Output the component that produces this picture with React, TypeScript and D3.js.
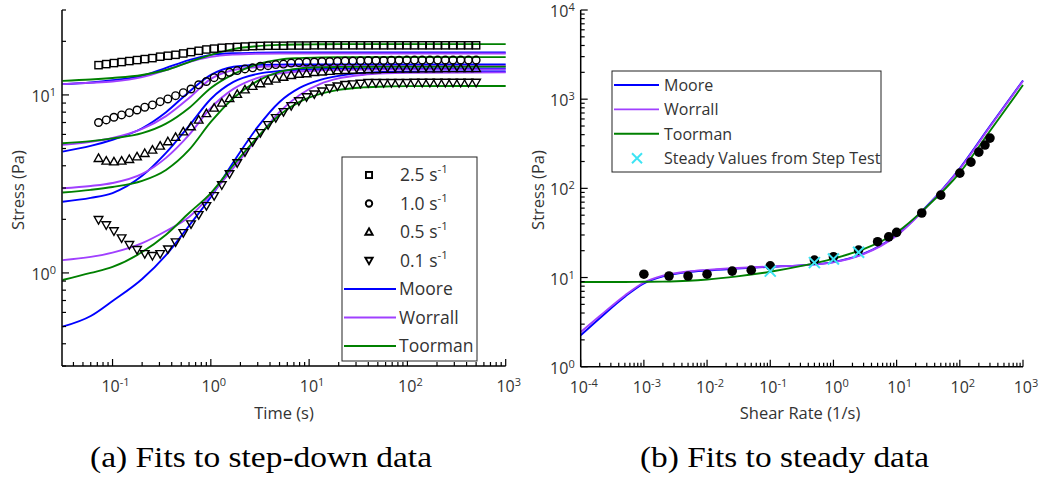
import React from 'react';
import * as d3 from 'd3';

// ---------- Panel (a): step-down data ----------
const TIMES = [0.072, 0.0863, 0.1033, 0.1237, 0.1482, 0.1775, 0.2127, 0.2547, 0.3051, 0.3655,
  0.4378, 0.5245, 0.6283, 0.7526, 0.9015, 1.08, 1.294, 1.549, 1.856, 2.223,
  2.663, 3.19, 3.821, 4.577, 5.483, 6.568, 7.868, 9.424, 11.29, 13.52,
  16.2, 19.4, 23.24, 27.84, 33.35, 39.95, 47.86, 57.33, 68.67, 82.26,
  98.54, 118.0, 141.4, 169.4, 202.9, 243.0, 291.1, 348.7, 417.7, 500.3];

const STEP_25 = [14.7, 14.9, 15.1, 15.3, 15.5, 15.7, 15.9, 16.1, 16.4, 16.6,
  16.8, 17.1, 17.4, 17.7, 18.0, 18.2, 18.4, 18.5, 18.6, 18.7,
  18.8, 18.85, 18.9, 18.9, 18.9, 18.95, 18.95, 18.95, 19.0, 19.0,
  19.0, 19.0, 19.0, 19.0, 19.0, 19.0, 19.0, 19.0, 19.0, 19.0,
  19.0, 19.0, 19.0, 19.0, 19.0, 19.0, 19.0, 19.0, 19.0, 19.0];
const STEP_10 = [7.0, 7.24, 7.49, 7.72, 7.95, 8.23, 8.53, 8.79, 9.17, 9.49,
  9.91, 10.3, 10.8, 11.4, 11.9, 12.5, 12.9, 13.4, 13.7, 14.0,
  14.2, 14.5, 14.6, 14.8, 14.9, 15.1, 15.2, 15.3, 15.3, 15.4,
  15.4, 15.45, 15.5, 15.5, 15.55, 15.6, 15.6, 15.6, 15.65, 15.65,
  15.7, 15.7, 15.7, 15.7, 15.7, 15.7, 15.7, 15.7, 15.7, 15.7];
const STEP_05 = [4.41, 4.26, 4.22, 4.26, 4.35, 4.5, 4.7, 4.91, 5.17, 5.47,
  5.79, 6.22, 6.64, 7.24, 7.87, 8.45, 9.02, 9.56, 10.1, 10.7,
  11.2, 11.6, 12.0, 12.3, 12.6, 12.9, 13.1, 13.2, 13.4, 13.5,
  13.6, 13.7, 13.75, 13.8, 13.85, 13.9, 13.9, 13.95, 13.95, 14.0,
  14.0, 14.0, 14.05, 14.05, 14.05, 14.1, 14.1, 14.1, 14.1, 14.1];
const STEP_01 = [1.99, 1.86, 1.72, 1.57, 1.44, 1.35, 1.28, 1.25, 1.28, 1.36,
  1.49, 1.68, 1.88, 2.12, 2.38, 2.71, 3.12, 3.6, 4.15, 4.78,
  5.45, 6.12, 6.79, 7.43, 8.03, 8.68, 9.25, 9.74, 10.1, 10.5,
  10.9, 11.2, 11.4, 11.5, 11.6, 11.7, 11.7, 11.7, 11.7, 11.7,
  11.7, 11.75, 11.75, 11.75, 11.75, 11.75, 11.75, 11.75, 11.75, 11.75];

const FIT_TIMES = [0.031, 0.06, 0.1, 0.2, 0.35, 0.6, 1, 1.7, 3, 5, 8, 13, 20, 35, 60, 100, 1000];
const MOORE_25 = [11.5, 11.75, 12.1, 12.8, 14.2, 15.7, 16.8, 17.15, 17.25, 17.3, 17.3, 17.3, 17.3, 17.3, 17.3, 17.3, 17.3];
const WORRALL_25 = [11.5, 11.7, 11.9, 12.6, 13.8, 15.3, 16.35, 16.85, 17.05, 17.1, 17.1, 17.1, 17.1, 17.1, 17.1, 17.1, 17.1];
const TOORMAN_25 = [12.0, 12.2, 12.45, 12.95, 13.8, 15.3, 16.8, 18.1, 18.8, 19.1, 19.2, 19.25, 19.3, 19.3, 19.3, 19.3, 19.3];
const MOORE_10 = [4.8, 5.17, 5.6, 6.5, 8.0, 10.4, 12.95, 14.4, 14.75, 14.8, 14.85, 14.85, 14.85, 14.85, 14.85, 14.85, 14.85];
const WORRALL_10 = [5.24, 5.45, 5.73, 6.44, 7.6, 9.6, 12.3, 13.8, 14.35, 14.5, 14.55, 14.55, 14.55, 14.55, 14.55, 14.55, 14.55];
const TOORMAN_10 = [5.35, 5.5, 5.7, 6.1, 6.9, 8.45, 10.95, 13.1, 14.9, 15.8, 16.1, 16.25, 16.3, 16.3, 16.3, 16.3, 16.3];
const MOORE_05 = [2.51, 2.64, 2.81, 3.51, 4.72, 6.7, 9.49, 11.83, 13.12, 13.64, 13.86, 13.96, 14.02, 14.05, 14.07, 14.09, 14.09];
const WORRALL_05 = [2.99, 3.08, 3.2, 3.6, 4.43, 5.96, 8.45, 10.81, 12.46, 13.21, 13.55, 13.73, 13.82, 13.87, 13.89, 13.91, 13.91];
const TOORMAN_05 = [2.83, 2.93, 3.04, 3.29, 3.79, 4.91, 7.05, 9.62, 11.99, 13.47, 14.09, 14.31, 14.37, 14.4, 14.42, 14.42, 14.42];
const MOORE_01 = [0.499, 0.573, 0.696, 0.925, 1.26, 1.84, 2.67, 4.2, 6.61, 9.13, 10.95, 12.14, 12.79, 13.3, 13.47, 13.52, 13.55];
const WORRALL_01 = [1.18, 1.23, 1.3, 1.47, 1.72, 2.06, 2.74, 3.89, 5.73, 8.03, 10.0, 11.53, 12.38, 12.95, 13.21, 13.3, 13.38];
const TOORMAN_01 = [0.913, 1.0, 1.08, 1.31, 1.64, 2.17, 2.81, 4.04, 5.81, 7.72, 9.13, 10.13, 10.67, 11.02, 11.16, 11.2, 11.23];

const RATE_LABELS = ['2.5', '1.0', '0.5', '0.1'];
const MODEL_NAMES = ['Moore', 'Worrall', 'Toorman'];
const MODEL_COLORS = ['#0000ff', '#a040ff', '#008000'];

// ---------- Panel (b): steady data ----------
const SHEAR = [1e-4, 2e-4, 5e-4, 1e-3, 2e-3, 5e-3, 0.01, 0.03, 0.1, 0.3, 1, 3, 10, 30, 100, 300, 1000];
const MOORE_SS = [2.25, 3.5, 6.1, 8.6, 10.3, 11.5, 12.0, 12.6, 13.2, 13.7, 14.9, 18.5, 30, 63, 168, 500, 1620];
const WORRALL_SS = [2.45, 3.7, 6.3, 8.8, 10.5, 11.7, 12.2, 12.8, 13.3, 13.7, 14.8, 18.3, 29.5, 62, 165, 490, 1600];
const TOORMAN_SS = [8.9, 8.9, 8.9, 8.95, 9.0, 9.2, 9.5, 10.3, 11.6, 13.4, 16.3, 20.8, 32, 62, 150, 440, 1440];
const STEADY_RATES = [0.001, 0.0025, 0.005, 0.01, 0.025, 0.05, 0.1, 0.5, 1, 2.5, 5, 7.5, 10, 25, 50, 100, 150, 200, 250, 300];
const STEADY_STRESS = [10.9, 10.4, 10.4, 10.9, 11.8, 12.1, 13.5, 15.7, 17.1, 20.3, 25.2, 28.6, 32.1, 52.9, 84, 148, 197, 255, 306, 366];
const STEP_RATES = [0.1, 0.5, 1, 2.5];
const STEP_STEADY = [11.8, 14.7, 16.1, 19.2];

const FONT = '"Open Sans", "DejaVu Sans", sans-serif';
const TXT = '#333';

function minorTicks(lo: number, hi: number) {
  const out: number[] = [];
  for (let e = -6; e <= 5; e++) {
    for (let k = 1; k <= 9; k++) {
      const v = k * Math.pow(10, e);
      if (v >= lo * 0.9999 && v <= hi * 1.0001) out.push(v);
    }
  }
  return out;
}

function Sup({ x, y, exp, anchor = 'middle', size = 16 }: any) {
  return (
    <text x={x} y={y} textAnchor={anchor} fontFamily={FONT} fontSize={size} fill={TXT}>
      10<tspan dy={-6} fontSize={11}>{exp}</tspan>
    </text>
  );
}

function Axes({ xs, ys, xMajors, yMajors }: any) {
  const [x0, x1] = xs.range();
  const [y0, y1] = ys.range();
  const xd = xs.domain();
  const yd = ys.domain();
  const xMin = minorTicks(xd[0], xd[1]);
  const yMin = minorTicks(yd[0], yd[1]);
  const isMajor = (v: number) => Math.abs(Math.log10(v) - Math.round(Math.log10(v))) < 1e-6;
  return (
    <g>
      <line x1={x0} x2={x1} y1={y0} y2={y0} stroke="#000" strokeWidth={1.5} />
      <line x1={x0} x2={x0} y1={y0} y2={y1} stroke="#000" strokeWidth={1.5} />
      {xMin.map((v, i) => (
        <line key={'xt' + i} x1={xs(v)} x2={xs(v)} y1={y0} y2={y0 - (isMajor(v) ? 7 : 4)} stroke="#000" strokeWidth={1.2} />
      ))}
      {yMin.map((v, i) => (
        <line key={'yt' + i} x1={x0} x2={x0 + (isMajor(v) ? 7 : 4)} y1={ys(v)} y2={ys(v)} stroke="#000" strokeWidth={1.2} />
      ))}
      {xMajors.map((e: number) => (
        <Sup key={'xl' + e} x={xs(Math.pow(10, e)) + 3} y={y0 + 26} exp={String(e)} />
      ))}
      {yMajors.map((e: number) => (
        <Sup key={'yl' + e} x={x0 - 6} y={ys(Math.pow(10, e)) + 7} exp={String(e)} anchor="end" />
      ))}
    </g>
  );
}

function Marker({ kind, x, y, s = 1, sw = 1.4 }: any) {
  const st = { fill: 'none', stroke: '#000', strokeWidth: sw } as any;
  if (kind === 0) return <rect x={x - 3.6 * s} y={y - 3.6 * s} width={7.2 * s} height={7.2 * s} {...st} />;
  if (kind === 1) return <circle cx={x} cy={y} r={3.8 * s} {...st} />;
  if (kind === 2) {
    const h = 4.3 * s;
    return <path d={`M${x},${y - h}L${x + h},${y + h * 0.75}L${x - h},${y + h * 0.75}Z`} {...st} />;
  }
  const h = 4.3 * s;
  return <path d={`M${x},${y + h}L${x + h},${y - h * 0.75}L${x - h},${y - h * 0.75}Z`} {...st} />;
}

function Cross({ x, y, r = 5.5, color = '#3de4f4' }: any) {
  return (
    <g stroke={color} strokeWidth={2}>
      <line x1={x - r} y1={y - r} x2={x + r} y2={y + r} />
      <line x1={x - r} y1={y + r} x2={x + r} y2={y - r} />
    </g>
  );
}

export default function App() {
  // Panel (a)
  const xL = d3.scaleLog().domain([0.0306, 1000]).range([62, 505.7]);
  const yL = d3.scaleLog().domain([0.3, 30]).range([366, 10]);
  const lineL = d3.line<[number, number]>().x(d => xL(d[0])).y(d => yL(d[1])).curve(d3.curveMonotoneX);
  const fitsL = [
    [MOORE_25, WORRALL_25, TOORMAN_25],
    [MOORE_10, WORRALL_10, TOORMAN_10],
    [MOORE_05, WORRALL_05, TOORMAN_05],
    [MOORE_01, WORRALL_01, TOORMAN_01],
  ];
  const stepSeries = [STEP_25, STEP_10, STEP_05, STEP_01];

  // Panel (b)
  const xR = d3.scaleLog().domain([1e-4, 1e3]).range([580.7, 1023]);
  const yR = d3.scaleLog().domain([1, 1e4]).range([366.7, 10]);
  const lineR = d3.line<[number, number]>().x(d => xR(d[0])).y(d => yR(d[1])).curve(d3.curveMonotoneX);
  const fitsR = [MOORE_SS, WORRALL_SS, TOORMAN_SS];

  const legL = { x0: 342, y0: 157, x1: 477, y1: 361, row0: 175, dy: 28.5 };
  const legR = { x0: 612, y0: 71, x1: 881, y1: 172, row0: 85, dy: 24.4 };

  return (
    <svg width={1039} height={477} style={{ position: 'absolute', left: 0, top: 0, background: '#fff' }}>
      <rect x={0} y={0} width={1039} height={477} fill="#fff" />
      {/* ----- Panel (a) ----- */}
      <g>
        {fitsL.map((grp, gi) =>
          grp.map((vals, mi) => (
            <path key={`fl${gi}-${mi}`} d={lineL(FIT_TIMES.map((t, i) => [t, vals[i]]) as any) || ''}
              fill="none" stroke={MODEL_COLORS[mi]} strokeWidth={1.9} />
          ))
        )}
        {stepSeries.map((vals, si) =>
          vals.map((v, i) => <Marker key={`m${si}-${i}`} kind={si} x={xL(TIMES[i])} y={yL(v)} />)
        )}
        <Axes xs={xL} ys={yL} xMajors={[-1, 0, 1, 2, 3]} yMajors={[0, 1]} />
        <text transform="translate(24,190) rotate(-90)" textAnchor="middle" fontFamily={FONT} fontSize={16.5} fill={TXT}>Stress (Pa)</text>
        <text x={284} y={419} textAnchor="middle" fontFamily={FONT} fontSize={16.5} fill={TXT}>Time (s)</text>
        {/* legend */}
        <rect x={legL.x0} y={legL.y0} width={legL.x1 - legL.x0} height={legL.y1 - legL.y0} fill="#fff" stroke="#222" strokeWidth={1} />
        {RATE_LABELS.map((lab, i) => {
          const cy = legL.row0 + i * legL.dy;
          return (
            <g key={'ll' + i}>
              <Marker kind={i} x={369} y={cy} s={0.85} sw={1.9} />
              <text x={400} y={cy + 6} fontFamily={FONT} fontSize={17.5} fill={TXT}>
                {lab} s<tspan dy={-8} fontSize={11.5}>-1</tspan>
              </text>
            </g>
          );
        })}
        {MODEL_NAMES.map((nm, i) => {
          const cy = legL.row0 + (i + 4) * legL.dy;
          return (
            <g key={'lm' + i}>
              <line x1={344} x2={396} y1={cy} y2={cy} stroke={MODEL_COLORS[i]} strokeWidth={1.9} />
              <text x={399} y={cy + 6} fontFamily={FONT} fontSize={17.5} fill={TXT}>{nm}</text>
            </g>
          );
        })}
      </g>

      {/* ----- Panel (b) ----- */}
      <g>
        {fitsR.map((vals, mi) => (
          <path key={'fr' + mi} d={lineR(SHEAR.map((g, i) => [g, vals[i]]) as any) || ''}
            fill="none" stroke={MODEL_COLORS[mi]} strokeWidth={1.9} />
        ))}
        {STEADY_RATES.map((g, i) => (
          <circle key={'d' + i} cx={xR(g)} cy={yR(STEADY_STRESS[i])} r={4.8} fill="#000" />
        ))}
        {STEP_RATES.map((g, i) => (
          <Cross key={'c' + i} x={xR(g)} y={yR(STEP_STEADY[i])} />
        ))}
        <Axes xs={xR} ys={yR} xMajors={[-4, -3, -2, -1, 0, 1, 2, 3]} yMajors={[0, 1, 2, 3, 4]} />
        <text transform="translate(544,190) rotate(-90)" textAnchor="middle" fontFamily={FONT} fontSize={16.5} fill={TXT}>Stress (Pa)</text>
        <text x={800} y={419} textAnchor="middle" fontFamily={FONT} fontSize={16.5} fill={TXT}>Shear Rate (1/s)</text>
        <rect x={legR.x0} y={legR.y0} width={legR.x1 - legR.x0} height={legR.y1 - legR.y0} fill="#fff" stroke="#222" strokeWidth={1} />
        {MODEL_NAMES.map((nm, i) => {
          const cy = legR.row0 + i * legR.dy;
          return (
            <g key={'rm' + i}>
              <line x1={614} x2={659} y1={cy} y2={cy} stroke={MODEL_COLORS[i]} strokeWidth={1.9} />
              <text x={664} y={cy + 6} fontFamily={FONT} fontSize={16} fill={TXT}>{nm}</text>
            </g>
          );
        })}
        <Cross x={637} y={legR.row0 + 3 * legR.dy} r={5} />
        <text x={664} y={legR.row0 + 3 * legR.dy + 6} fontFamily={FONT} fontSize={16} fill={TXT}>Steady Values from Step Test</text>
      </g>

      {/* captions */}
      <text x={90} y={467} fontFamily='"Liberation Serif", "DejaVu Serif", serif' fontSize={29} textLength={342} lengthAdjust="spacingAndGlyphs" fill="#000">(a) Fits to step-down data</text>
      <text x={640} y={467} fontFamily='"Liberation Serif", "DejaVu Serif", serif' fontSize={29} textLength={289} lengthAdjust="spacingAndGlyphs" fill="#000">(b) Fits to steady data</text>
    </svg>
  );
}
